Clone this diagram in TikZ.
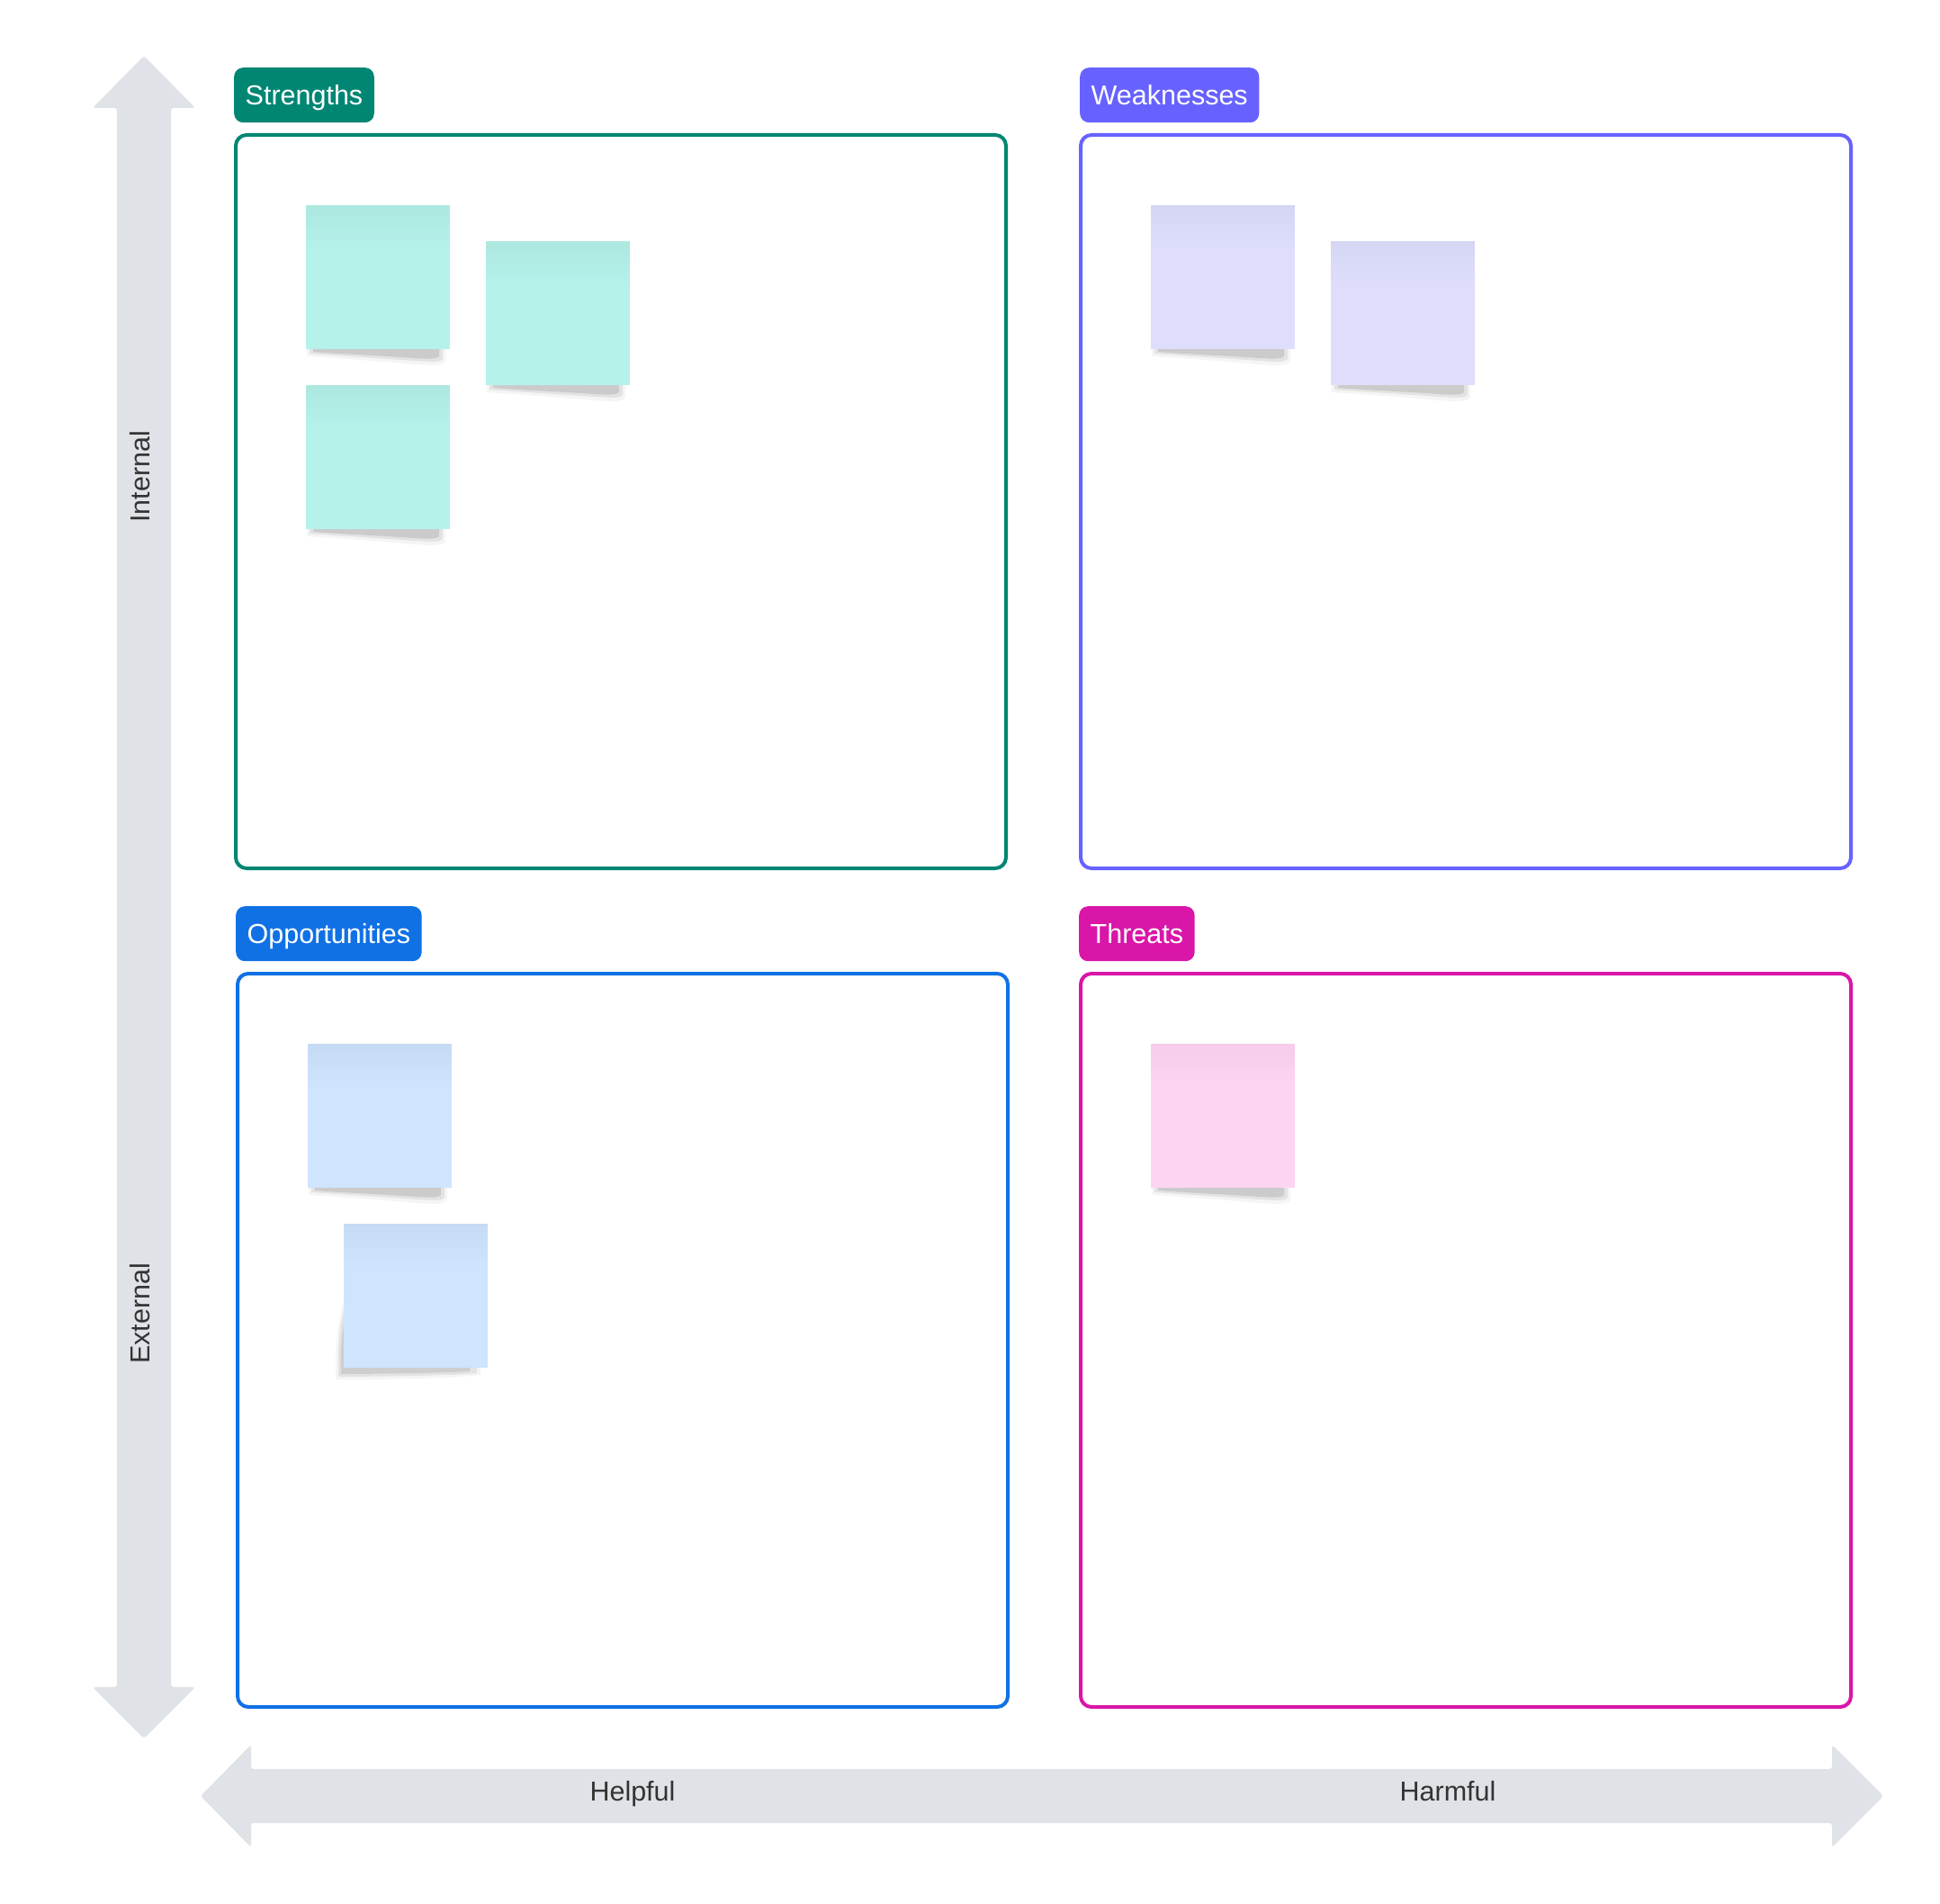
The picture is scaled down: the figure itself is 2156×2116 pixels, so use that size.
\documentclass[tikz,border=0pt]{standalone}
\usepackage{fontspec}
\setmainfont{Liberation Sans}
\definecolor{cS}{HTML}{008673}
\definecolor{cW}{HTML}{6762FF}
\definecolor{cO}{HTML}{1071E5}
\definecolor{cT}{HTML}{D916A8}
\definecolor{sS}{HTML}{B5F2EA}\definecolor{sStop}{HTML}{ACE8E0}
\definecolor{sW}{HTML}{DEDEFC}\definecolor{sWtop}{HTML}{D5D5F4}
\definecolor{sO}{HTML}{CFE4FD}\definecolor{sOtop}{HTML}{C6DAF4}
\definecolor{sT}{HTML}{FDD5F3}\definecolor{sTtop}{HTML}{F6CBEB}
\definecolor{axisgray}{HTML}{DFE2E6}
\definecolor{txtgray}{HTML}{333333}
\newcommand\lblfont{\fontsize{30.5}{36}\selectfont}
\newcommand\shadowR[2]{%
 \begin{scope}[shift={(#1,#2)}]
  \fill[black,opacity=0.04] (1,-2) -- (155,-2) -- (155,14) .. controls (151,19) and (140,18) .. (120,17) .. controls (80,13) and (30,10) .. (1,8) -- cycle;
  \fill[black,opacity=0.07] (4,0) -- (152,0) -- (152,11) .. controls (149,15) and (140,14) .. (120,13) .. controls (80,10) and (30,7) .. (4,5) -- cycle;
  \fill[black,opacity=0.10] (8,0) -- (148,0) -- (148,8) .. controls (145,11) and (138,11) .. (120,10) .. controls (80,7) and (30,5) .. (8,3) -- cycle;
 \end{scope}}
\newcommand\shadowL[2]{%
 \begin{scope}[shift={(#1,#2)}]
  \fill[black,opacity=0.04] (2,-80) -- (2,-2) -- (152,-2) -- (152,8) .. controls (120,12) and (20,14) .. (-9,13) .. controls (-10,-20) and (-7,-55) .. (2,-80) -- cycle;
  \fill[black,opacity=0.07] (2,-70) -- (2,0) -- (148,0) -- (148,6) .. controls (120,9) and (20,10) .. (-6,10) .. controls (-7,-20) and (-5,-50) .. (2,-70) -- cycle;
  \fill[black,opacity=0.09] (2,-55) -- (2,0) -- (140,0) -- (140,4) .. controls (110,6) and (20,7) .. (-3,7) .. controls (-4,-15) and (-3,-40) .. (2,-55) -- cycle;
 \end{scope}}
\tikzset{
 quad/.style={draw=#1, line width=4pt, rounded corners=12pt, minimum width=856pt, minimum height=815pt, anchor=north west, inner sep=0pt},
 tag/.style={fill=#1, text=white, rounded corners=10pt, anchor=north west, minimum height=61pt, inner xsep=12.5pt, inner ysep=0pt, text height=21.8pt, text depth=0pt, font=\lblfont},
 note/.style 2 args={minimum size=160pt, inner sep=0pt, anchor=north west, fill=#1,
   path picture={\foreach \i in {0,...,15}{%
     \pgfmathtruncatemacro\pct{100-\i*100/16}%
     \pgfmathsetmacro\ya{-3*\i}\pgfmathsetmacro\yb{-3*\i-3.3}%
     \fill[#2!\pct!#1] ([yshift=\ya pt]path picture bounding box.north west) rectangle ([yshift=\yb pt]path picture bounding box.north east);}}},
 axlbl/.style={text=txtgray, font=\lblfont, anchor=base, inner sep=0pt},
 axisshape/.style={fill=axisgray, rounded corners=3pt},
}
\begin{document}
\begin{tikzpicture}[x=1pt,y=-1pt]
\useasboundingbox (0,0) rectangle (2156,2116);
\fill[white] (0,0) rectangle (2156,2116);
% axes
\fill[axisshape] (160,62) -- (217,120) -- (190,120) -- (190,1875) -- (217,1875) -- (160,1932) -- (103,1875) -- (130,1875) -- (130,120) -- (103,120) -- cycle;
\fill[axisshape] (223,1996) -- (279,1939) -- (279,1966) -- (2036,1966) -- (2036,1939) -- (2093,1996) -- (2036,2053) -- (2036,2026) -- (279,2026) -- (279,2053) -- cycle;
\node[axlbl, rotate=90] (internal) at (166.5,530) {Internal};
\node[axlbl, rotate=90] (external) at (166.5,1460) {External};
\node[axlbl] (helpful) at (703,2001) {Helpful};
\node[axlbl] (harmful) at (1609,2001) {Harmful};
% quadrant boxes
\node[quad=cS] (sbox) at (260,148) {};
\node[quad=cW] (wbox) at (1199,148) {};
\node[quad=cO] (obox) at (262,1080) {};
\node[quad=cT] (tbox) at (1199,1080) {};
% tags
\node[tag=cS] (stag) at (260,75) {Strengths};
\node[tag=cW] (wtag) at (1200,75) {Weaknesses};
\node[tag=cO] (otag) at (262,1007) {Opportunities};
\node[tag=cT] (ttag) at (1199,1007) {Threats};
% sticky notes
\shadowR{340}{388}\node[note={sS}{sStop}] (s1) at (340,228) {};
\shadowR{540}{428}\node[note={sS}{sStop}] (s2) at (540,268) {};
\shadowR{340}{588}\node[note={sS}{sStop}] (s3) at (340,428) {};
\shadowR{1279}{388}\node[note={sW}{sWtop}] (w1) at (1279,228) {};
\shadowR{1479}{428}\node[note={sW}{sWtop}] (w2) at (1479,268) {};
\shadowR{342}{1320}\node[note={sO}{sOtop}] (o1) at (342,1160) {};
\shadowL{382}{1520}\node[note={sO}{sOtop}] (o2) at (382,1360) {};
\shadowR{1279}{1320}\node[note={sT}{sTtop}] (t1) at (1279,1160) {};
\end{tikzpicture}
\end{document}
